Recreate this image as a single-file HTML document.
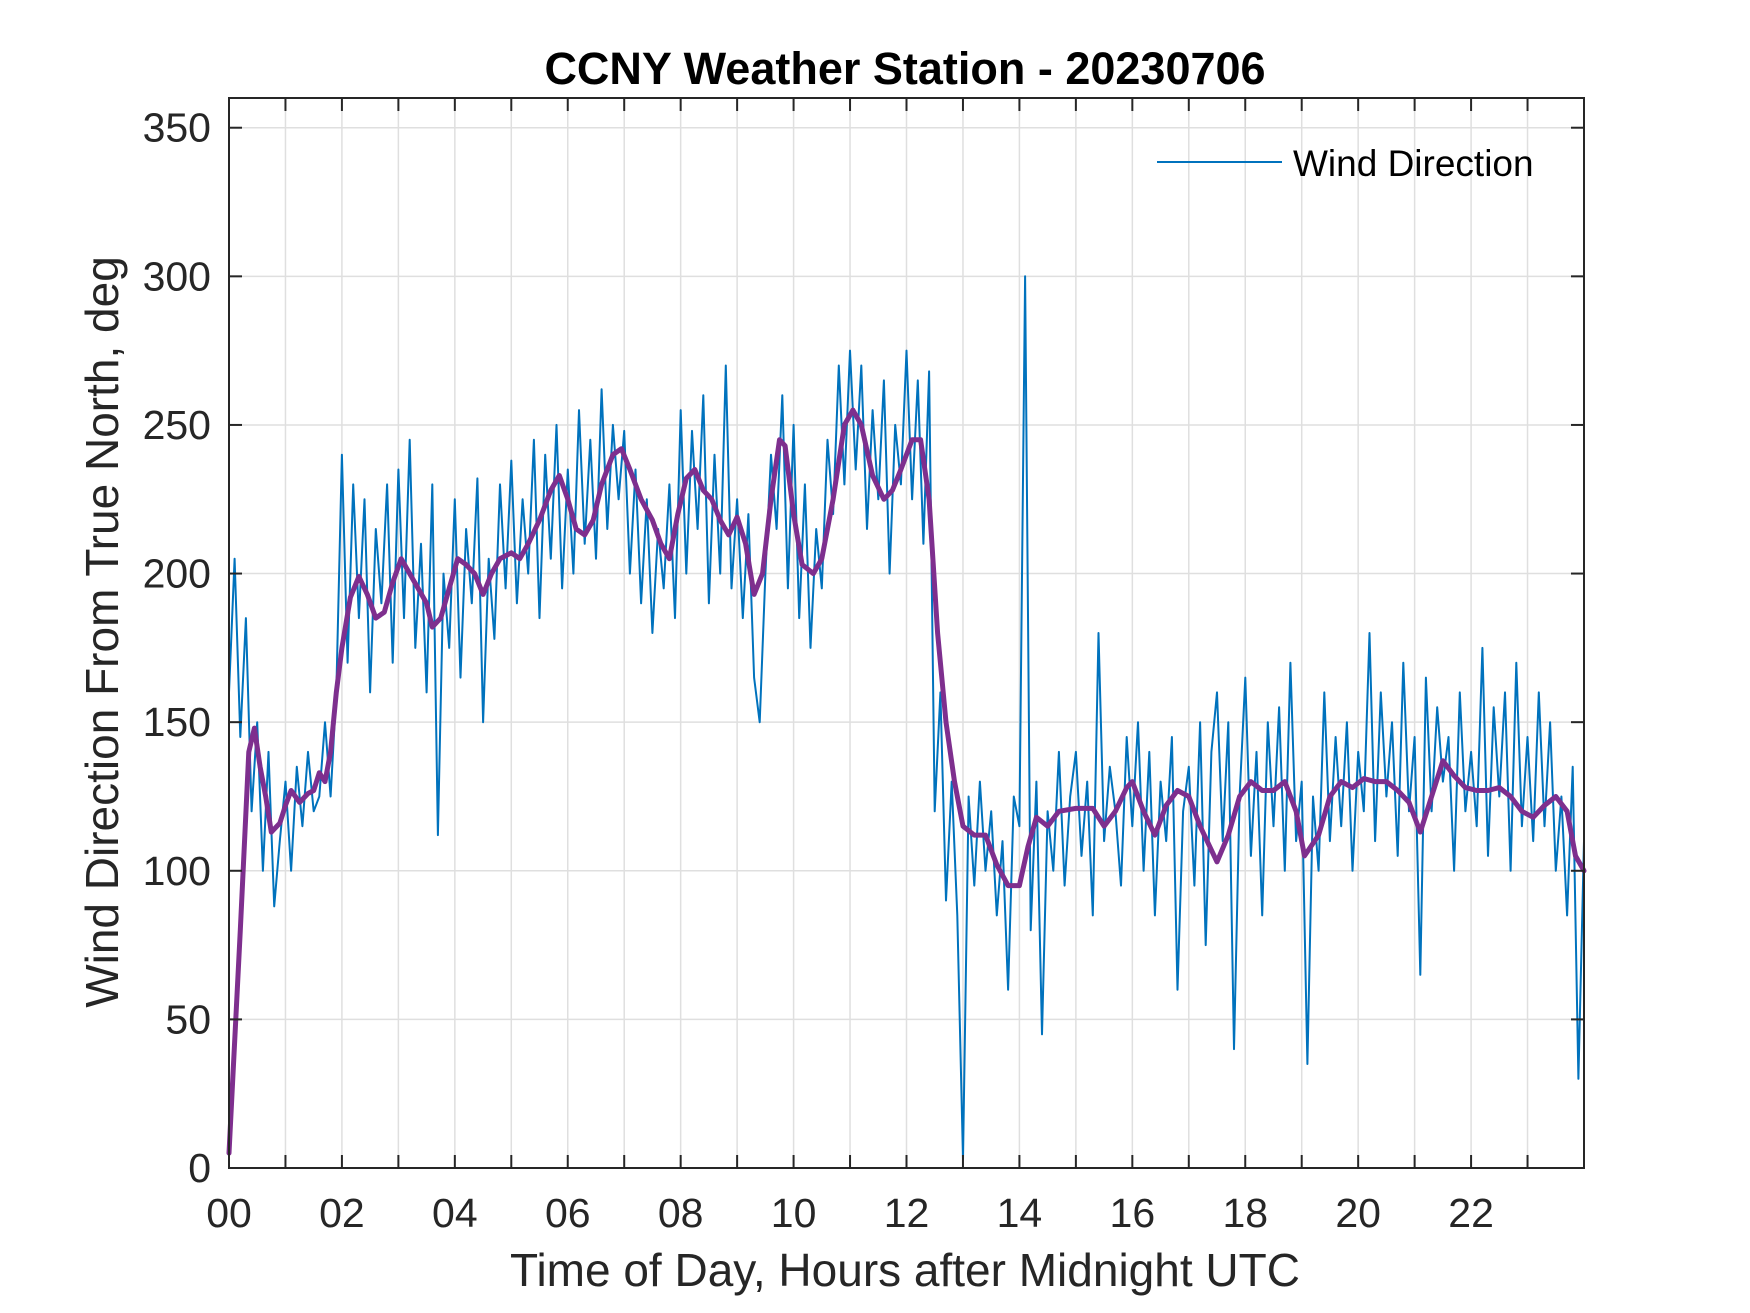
<!DOCTYPE html>
<html><head><meta charset="utf-8"><style>
html,body{margin:0;padding:0;background:#fff;}
svg{display:block;font-family:"Liberation Sans",Arial,sans-serif;}
</style></head><body>
<svg id="chart" width="1750" height="1313" viewBox="0 0 1750 1313" xmlns="http://www.w3.org/2000/svg">
<rect x="0" y="0" width="1750" height="1313" fill="#fff"/>
<g id="grid"></g>
<g id="series"></g>
<g id="axes"></g>
<text x="905" y="84" text-anchor="middle" font-size="45" font-weight="bold" fill="#000">CCNY Weather Station - 20230706</text>
<text x="905" y="1286" text-anchor="middle" font-size="46" fill="#262626">Time of Day, Hours after Midnight UTC</text>
<text transform="translate(118,632) rotate(-90)" text-anchor="middle" font-size="46" fill="#262626">Wind Direction From True North, deg</text>
<g>
<line x1="1157" y1="162" x2="1282" y2="162" stroke="#0072BD" stroke-width="2"/>
<text x="1293" y="176" font-size="37" fill="#000">Wind Direction</text>
</g>
</svg>
<script>
const rawValues = [
160,205,145,185,120,150,100,140,88,110,
130,100,135,115,140,120,125,150,125,160,
240,170,230,185,225,160,215,190,230,170,
235,185,245,175,210,160,230,112,200,175,
225,165,215,190,232,150,205,178,230,195,
238,190,225,200,245,185,240,205,250,195,
235,200,255,210,245,205,262,215,250,225,
248,200,235,190,225,180,215,195,230,185,
255,200,248,215,260,190,240,200,270,195,
225,185,220,165,150,200,240,215,260,195,
250,185,230,175,215,195,245,220,270,230,
275,235,270,215,255,225,265,200,250,230,
275,225,265,210,268,120,160,90,130,85,
3,125,95,130,100,120,85,110,60,125,
115,300,80,130,45,120,100,140,95,125,
140,105,130,85,180,110,135,120,95,145,
115,150,100,140,85,130,110,145,60,120,
135,95,150,75,140,160,110,150,40,125,
165,105,140,85,150,115,155,100,170,110,
130,35,125,100,160,110,145,115,150,100,
140,120,180,110,160,125,150,105,170,120,
145,65,165,120,155,130,145,100,160,120,
140,115,175,105,155,125,160,100,170,115,
145,110,160,115,150,100,125,85,135,30,110];
const rawStepHours = 0.1;
const smoothHours = [0,0.2,0.35,0.45,0.55,0.65,0.75,0.9,1.0,1.1,1.25,1.4,1.5,1.6,1.7,1.8,1.9,2.0,2.15,2.3,2.45,2.6,2.75,2.9,3.05,3.2,3.35,3.5,3.6,3.75,3.9,4.05,4.2,4.35,4.5,4.65,4.8,5.0,5.15,5.3,5.5,5.7,5.85,6.0,6.15,6.3,6.45,6.6,6.8,6.95,7.1,7.3,7.5,7.65,7.8,7.95,8.1,8.25,8.4,8.55,8.7,8.85,9.0,9.15,9.3,9.45,9.6,9.75,9.85,10.0,10.15,10.35,10.5,10.7,10.9,11.05,11.2,11.4,11.6,11.75,11.9,12.1,12.25,12.4,12.55,12.7,12.85,13.0,13.2,13.4,13.6,13.8,14.0,14.15,14.3,14.5,14.7,15.0,15.3,15.5,15.7,15.9,16.0,16.2,16.4,16.6,16.8,17.0,17.2,17.5,17.7,17.9,18.1,18.3,18.5,18.7,18.9,19.05,19.3,19.5,19.7,19.9,20.1,20.3,20.5,20.7,20.9,21.1,21.3,21.5,21.7,21.9,22.1,22.3,22.5,22.7,22.9,23.1,23.3,23.5,23.7,23.85,24.0];
const smoothValues = [5,80,140,148,135,125,113,116,122,127,123,126,127,133,130,140,160,175,192,199,193,185,187,197,205,200,195,190,182,185,195,205,203,200,193,200,205,207,205,210,218,228,233,225,215,213,218,230,240,242,235,225,218,210,205,220,232,235,228,225,218,213,219,210,193,200,225,245,243,220,203,200,205,225,250,255,250,233,225,228,235,245,245,225,180,150,130,115,112,112,102,95,95,108,118,115,120,121,121,115,120,128,130,120,112,122,127,125,115,103,112,125,130,127,127,130,120,105,112,125,130,128,131,130,130,127,123,113,125,137,132,128,127,127,128,125,120,118,122,125,120,105,100];
const xTickValues = [0,2,4,6,8,10,12,14,16,18,20,22];
const xTickLabels = ["00","02","04","06","08","10","12","14","16","18","20","22"];
const yTickValues = [0,50,100,150,200,250,300,350];

const NS="http://www.w3.org/2000/svg";
const L=229,R=1584,T=98,B=1168,XMAX=24,YMAX=360;
function xs(h){return L+h/XMAX*(R-L);}
function ys(v){return B-v/YMAX*(B-T);}
function mk(tag,attrs,parent){const e=document.createElementNS(NS,tag);for(const k in attrs)e.setAttribute(k,attrs[k]);parent.appendChild(e);return e;}
const grid=document.getElementById('grid'),axes=document.getElementById('axes'),series=document.getElementById('series');
for(let h=1;h<XMAX;h++){
  const g=mk('line',{x1:xs(h),x2:xs(h),y1:T,y2:B,stroke:'#dfdfdf','stroke-width':1.5},grid);
  
  
  const t1=mk('line',{x1:xs(h),x2:xs(h),y1:B,y2:B-13,stroke:'#262626','stroke-width':2},axes);
  
  
  const t2=mk('line',{x1:xs(h),x2:xs(h),y1:T,y2:T+13,stroke:'#262626','stroke-width':2},axes);
  
  
}
yTickValues.forEach(v=>{
  if(v>0){const g=mk('line',{x1:L,x2:R,y1:ys(v),y2:ys(v),stroke:'#dfdfdf','stroke-width':1.5},grid);
  
  }
  const t1=mk('line',{x1:L,x2:L+13,y1:ys(v),y2:ys(v),stroke:'#262626','stroke-width':2},axes);
  
  
  const t2=mk('line',{x1:R,x2:R-13,y1:ys(v),y2:ys(v),stroke:'#262626','stroke-width':2},axes);
  
  
  const lb=mk('text',{x:L-18,y:ys(v)+14,'text-anchor':'end','font-size':41,fill:'#262626'},axes);
  lb.textContent=v;
  
  
});
xTickValues.forEach((h,i)=>{
  const lb=mk('text',{x:xs(h),y:1227,'text-anchor':'middle','font-size':41,fill:'#262626'},axes);
  lb.textContent=xTickLabels[i];
  
  
});
const box=mk('rect',{x:L,y:T,width:R-L,height:B-T,fill:'none',stroke:'#262626','stroke-width':2},axes);


const rawPts=rawValues.map((v,i)=>xs(Math.min(i*rawStepHours,XMAX)).toFixed(1)+','+ys(v).toFixed(1)).join(' ');
const raw=mk('polyline',{points:rawPts,fill:'none',stroke:'#0072BD','stroke-width':2,'stroke-linejoin':'round'},series);


const smPts=smoothHours.map((h,i)=>xs(h).toFixed(1)+','+ys(smoothValues[i]).toFixed(1)).join(' ');
const sm=mk('polyline',{points:smPts,fill:'none',stroke:'#7E2F8E','stroke-width':5,'stroke-linejoin':'round','stroke-linecap':'round'},series);


</script>
</body></html>
